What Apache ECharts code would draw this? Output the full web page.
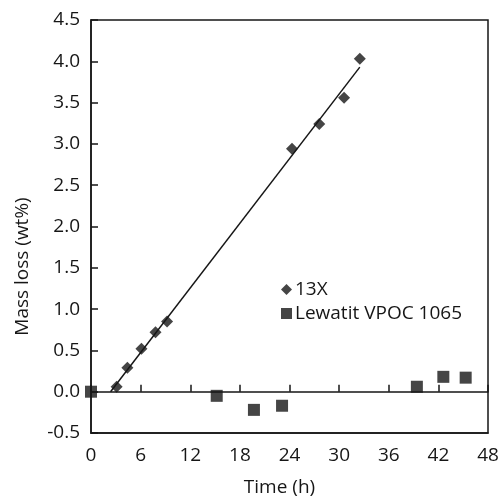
<!DOCTYPE html>
<html><head><meta charset="utf-8">
<script src="https://cdn.jsdelivr.net/npm/echarts@6/dist/echarts.min.js"></script>
<style>html,body{margin:0;padding:0;background:#fff}#c{width:501px;height:498px}</style>
</head><body><div id="c"></div>
<script>
// Data
const x13X = [3.1, 4.4, 6.1, 7.8, 9.2, 24.3, 27.6, 30.6, 32.5];
const y13X = [0.06, 0.29, 0.52, 0.72, 0.85, 2.94, 3.24, 3.56, 4.03];
const xLew = [0, 15.2, 19.7, 23.1, 39.4, 42.6, 45.3];
const yLew = [0, -0.05, -0.22, -0.17, 0.06, 0.18, 0.17];
const xTicks = [0, 6, 12, 18, 24, 30, 36, 42, 48];
const yTicks = [-0.5, 0.0, 0.5, 1.0, 1.5, 2.0, 2.5, 3.0, 3.5, 4.0, 4.5];
const seriesNames = ['13X', 'Lewatit VPOC 1065'];

// linear regression of 13X for trendline
const n = x13X.length;
const mx = x13X.reduce((a,b)=>a+b,0)/n, my = y13X.reduce((a,b)=>a+b,0)/n;
let sxy=0, sxx=0;
for (let i=0;i<n;i++){ sxy += (x13X[i]-mx)*(y13X[i]-my); sxx += (x13X[i]-mx)**2; }
const slope = sxy/sxx, icpt = my - slope*mx;
const xStart = -icpt/slope, xEnd = Math.max(...x13X);
const fitLine = [[xStart, slope*xStart+icpt],[xEnd, slope*xEnd+icpt]];

const FONT = 'Open Sans';
const FS = 19;
const C = '#161616';
const chart = echarts.init(document.getElementById('c'));
chart.setOption({
  animation:false,
  textStyle:{fontFamily:FONT},
  grid:{left:91, top:20, right:13, bottom:65, show:true, borderColor:C, borderWidth:1.5,
        backgroundColor:'transparent', containLabel:false, outerBoundsMode:'none'},
  legend:{
    orient:'vertical', left:276, top:275, itemGap:5, itemWidth:11, itemHeight:11,
    textStyle:{fontFamily:FONT, fontSize:FS, color:C, padding:[0,0,0,-2]},
    data:[{name:seriesNames[0], icon:'diamond'},{name:seriesNames[1], icon:'rect'}]
  },
  xAxis:[{
    type:'value', min:xTicks[0], max:xTicks[xTicks.length-1], interval:6,
    position:'bottom', axisLine:{onZero:false, show:true, lineStyle:{color:C, width:1.5}},
    axisTick:{show:false}, splitLine:{show:false},
    axisLabel:{fontFamily:FONT, fontSize:FS, color:C, margin:13},
    name:'Time (h)', nameLocation:'middle', nameGap:45,
    nameTextStyle:{fontFamily:FONT, fontSize:FS, color:C, padding:[0,20,0,0]}
  },{
    type:'value', min:xTicks[0], max:xTicks[xTicks.length-1], interval:6,
    position:'bottom', axisLine:{onZero:true, show:true, lineStyle:{color:C, width:1.5}},
    axisTick:{show:true, inside:true, length:7, lineStyle:{color:C, width:1.5}},
    axisLabel:{show:false}, splitLine:{show:false}
  }],
  yAxis:{
    type:'value', min:yTicks[0], max:yTicks[yTicks.length-1], interval:0.5,
    axisLine:{show:true, onZero:false, lineStyle:{color:C, width:1.5}},
    axisTick:{show:true, inside:true, length:7, lineStyle:{color:C, width:1.5}},
    splitLine:{show:false},
    axisLabel:{fontFamily:FONT, fontSize:FS, color:C, margin:11, formatter:v=>v.toFixed(1)},
    name:'Mass loss (wt%)', nameLocation:'middle', nameGap:59,
    nameTextStyle:{fontFamily:FONT, fontSize:FS, color:C, padding:[0,80,0,0]}
  },
  series:[
    {name:'fit', type:'line', data:fitLine, symbol:'none', lineStyle:{color:C, width:1.5}, silent:true, z:1},
    {name:seriesNames[0], type:'scatter', symbol:'diamond', symbolSize:[12,12], itemStyle:{color:C},
     data:x13X.map((x,i)=>[x,y13X[i]]), z:3},
    {name:seriesNames[1], type:'scatter', symbol:'rect', symbolSize:[12,12], itemStyle:{color:C},
     data:xLew.map((x,i)=>[x,yLew[i]]), z:3}
  ]
});
</script></body></html>
